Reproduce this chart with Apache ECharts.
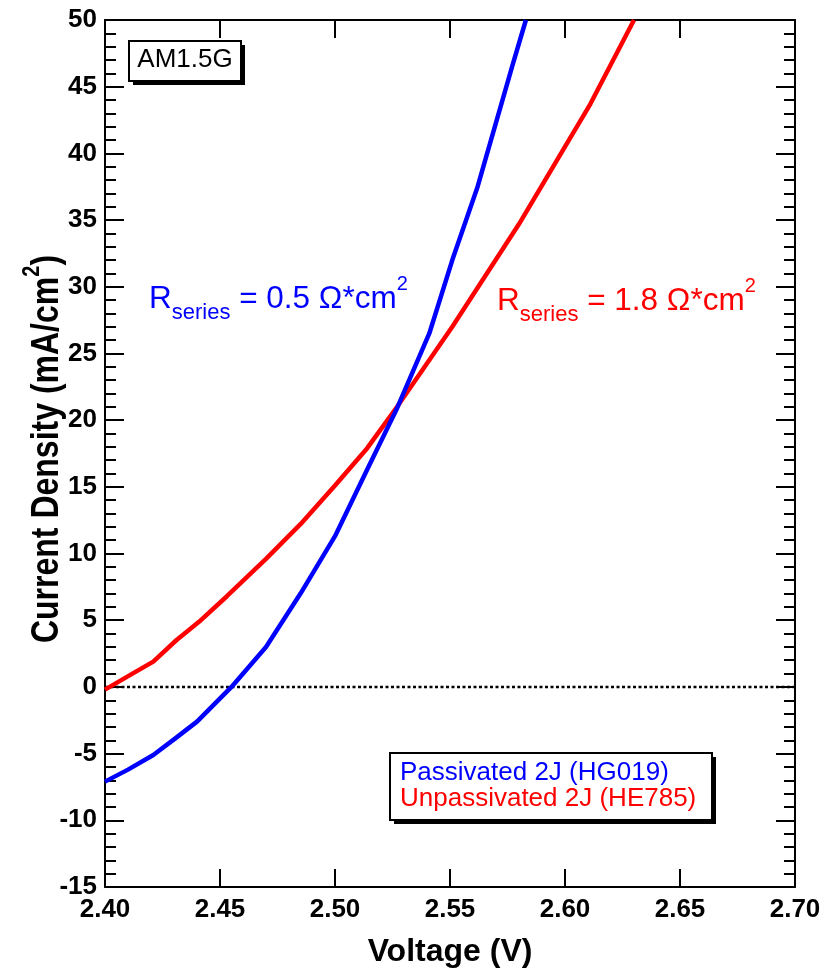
<!DOCTYPE html>
<html>
<head>
<meta charset="utf-8">
<script src="https://cdn.jsdelivr.net/npm/echarts@6/dist/echarts.min.js"></script>
<style>
  html, body { margin: 0; padding: 0; background: #fff; }
  #chart { width: 826px; height: 970px; }
</style>
</head>
<body>
<div id="chart"></div>
<script>
// J–V curves of two tandem (2J) cells under AM1.5G illumination
const passivatedV = [2.400, 2.410, 2.421, 2.431, 2.440, 2.455, 2.470, 2.485, 2.500, 2.514, 2.527, 2.541, 2.551, 2.562, 2.577, 2.583];
const passivatedJ = [-7.1, -6.2, -5.1, -3.8, -2.6, 0.0, 3.0, 7.0, 11.3, 16.3, 20.9, 26.5, 32.0, 37.5, 46.5, 50.0];

const unpassivatedV = [2.400, 2.411, 2.421, 2.431, 2.441, 2.453, 2.470, 2.485, 2.500, 2.514, 2.527, 2.551, 2.580, 2.611, 2.630];
const unpassivatedJ = [-0.2, 0.9, 1.9, 3.5, 4.9, 6.8, 9.6, 12.2, 15.1, 17.9, 21.0, 27.0, 34.7, 43.7, 50.0];

const seriesNames = ['Passivated 2J (HG019)', 'Unpassivated 2J (HE785)'];
const seriesColors = ['#0000ff', '#ff0000'];
const seriesResistance = ['0.5', '1.8'];

const xRange = { min: 2.40, max: 2.70, step: 0.05 };
const yRange = { min: -15, max: 50, step: 5 };

const FONT = '"Liberation Sans", Arial, Helvetica, sans-serif';

function pairs(xs, ys) { return xs.map((x, i) => [x, ys[i]]); }

const chart = echarts.init(document.getElementById('chart'), null, { renderer: 'canvas' });

const tickLabel = { color: '#000', fontFamily: FONT, fontWeight: 'bold', fontSize: 26 };
const frameLine = { show: true, onZero: false, lineStyle: { color: '#000', width: 2 } };
const majorTick = len => ({ show: true, inside: true, length: len, lineStyle: { color: '#000', width: 2 } });

// "R_series = x Ω*cm²" with subscript and superscript
function rseries(value, color) {
  return {
    text: '{r|R}{s|series}{m| = ' + value + ' Ω*cm}{p|2}',
    fill: color,
    rich: {
      r: { fontFamily: FONT, fontSize: 31.5, lineHeight: 50, fill: color },
      s: { fontFamily: FONT, fontSize: 22, lineHeight: 42, verticalAlign: 'bottom', fill: color },
      m: { fontFamily: FONT, fontSize: 31.5, lineHeight: 50, fill: color },
      p: { fontFamily: FONT, fontSize: 20, lineHeight: 30, verticalAlign: 'top', fill: color }
    }
  };
}

// framed box with a solid drop shadow
function shadowBox(x, y, w, h) {
  return [
    { type: 'rect', shape: { x: x + 4, y: y + 4, width: w, height: h }, style: { fill: '#000' }, z: 1, silent: true },
    { type: 'rect', shape: { x: x, y: y, width: w, height: h }, style: { fill: '#fff', stroke: '#000', lineWidth: 2 }, z: 2, silent: true }
  ];
}

chart.setOption({
  animation: false,
  backgroundColor: '#fff',
  grid: { left: 105, right: 31, top: 20, bottom: 83, containLabel: false, outerBoundsMode: 'none' },
  legend: {
    orient: 'vertical',
    left: 390, top: 753,
    padding: [7, 12, 11, 5],
    itemGap: 0,
    itemWidth: 0, itemHeight: 0,
    selectedMode: false,
    backgroundColor: 'transparent',
    borderWidth: 0,
    z: 20,
    textStyle: { fontFamily: FONT, fontSize: 26, lineHeight: 24 },
    data: seriesNames.map((n, i) => ({ name: n, icon: 'rect', textStyle: { color: seriesColors[i] } }))
  },
  xAxis: [
    {
      type: 'value', position: 'bottom',
      min: xRange.min, max: xRange.max, interval: xRange.step,
      axisLine: frameLine,
      axisTick: majorTick(18),
      axisLabel: Object.assign({ margin: 10, formatter: v => v.toFixed(2) }, tickLabel),
      splitLine: { show: false },
      name: 'Voltage (V)', nameLocation: 'middle', nameGap: 49,
      nameTextStyle: { color: '#000', fontFamily: FONT, fontWeight: 'bold', fontSize: 32 }
    },
    {
      type: 'value', position: 'top',
      min: xRange.min, max: xRange.max, interval: xRange.step,
      axisLine: frameLine,
      axisTick: majorTick(18),
      axisLabel: { show: false },
      splitLine: { show: false }
    }
  ],
  yAxis: [
    {
      type: 'value', position: 'left',
      min: yRange.min, max: yRange.max, interval: yRange.step,
      axisLine: frameLine,
      axisTick: majorTick(19),
      minorTick: { show: true, splitNumber: 5, length: 11, lineStyle: { color: '#000', width: 2 } },
      axisLabel: Object.assign({ margin: 8 }, tickLabel),
      splitLine: { show: false }
    },
    {
      type: 'value', position: 'right',
      min: yRange.min, max: yRange.max, interval: yRange.step,
      axisLine: frameLine,
      axisTick: majorTick(19),
      minorTick: { show: true, splitNumber: 5, length: 11, lineStyle: { color: '#000', width: 2 } },
      axisLabel: { show: false },
      splitLine: { show: false }
    }
  ],
  series: [
    {
      name: 'zero',
      type: 'line',
      data: [[xRange.min, 0], [xRange.max, 0]],
      symbol: 'none', silent: true,
      lineStyle: { color: '#000', width: 2.5, type: [3, 2.5] },
      z: 1
    },
    {
      name: seriesNames[0], type: 'line',
      data: pairs(passivatedV, passivatedJ),
      symbol: 'none', smooth: false,
      lineStyle: { color: seriesColors[0], width: 4.5 },
      itemStyle: { color: seriesColors[0] },
      z: 3
    },
    {
      name: seriesNames[1], type: 'line',
      data: pairs(unpassivatedV, unpassivatedJ),
      symbol: 'none', smooth: false,
      lineStyle: { color: seriesColors[1], width: 4.5 },
      itemStyle: { color: seriesColors[1] },
      z: 2
    }
  ],
  graphic: [].concat(
    shadowBox(129, 41, 112, 40),
    [{ type: 'text', x: 185, y: 60, z: 3, silent: true,
       style: { text: 'AM1.5G', fill: '#000', fontFamily: FONT, fontSize: 26, align: 'center', verticalAlign: 'middle' } }],
    shadowBox(390, 753, 322, 67),
    [
      { type: 'text', left: 149, top: 274, z: 10, style: rseries(seriesResistance[0], seriesColors[0]) },
      { type: 'text', left: 497, top: 276, z: 10, style: rseries(seriesResistance[1], seriesColors[1]) },
      {
        // y-axis title, reading bottom to top
        type: 'text', x: 47, y: 449, rotation: Math.PI / 2, scaleY: 1.2, z: 10, silent: true,
        style: {
          text: 'Current Density (mA/cm{sup|2})',
          fill: '#000', fontFamily: FONT, fontWeight: 'bold', fontSize: 32,
          align: 'center', verticalAlign: 'middle', lineHeight: 44,
          rich: { sup: { fill: '#000', fontFamily: FONT, fontWeight: 'bold', fontSize: 20, lineHeight: 44, verticalAlign: 'top' } }
        }
      }
    ]
  )
});
</script>
</body>
</html>
